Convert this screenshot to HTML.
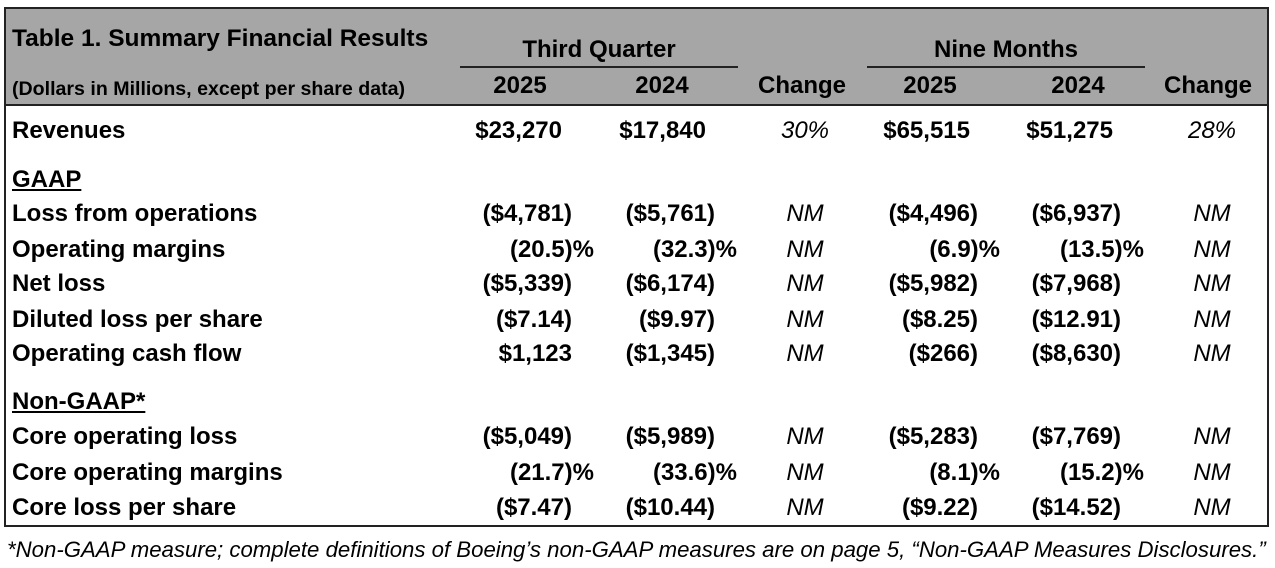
<!DOCTYPE html>
<html><head><meta charset="utf-8"><style>
body{margin:0;width:1275px;height:568px;background:#fff;position:relative;font-family:"Liberation Sans",Arial,sans-serif;overflow:hidden}
.box{position:absolute;left:4px;top:7px;width:1261px;height:516px;border:2px solid #222}
.hdr{position:absolute;left:6px;top:9px;width:1261px;height:95px;background:#a6a6a6;border-bottom:2px solid #222}
.t{position:absolute;font-weight:bold;font-size:24px;color:#000;white-space:nowrap;line-height:24px}
.r{text-align:right}
.c{text-align:center}
.i{font-style:italic;font-weight:normal}
.u{text-decoration:underline}
.ln{position:absolute;height:2px;background:#222}
</style></head><body>
<div class="hdr"></div>
<div class="box"></div>
<div class="t" style="left:12px;top:27px;font-size:24.5px">Table 1. Summary Financial Results</div>
<div class="t" style="left:12px;top:77px;font-size:19.6px">(Dollars in Millions, except per share data)</div>
<div class="t c" style="left:440px;width:318px;top:38px">Third Quarter</div>
<div class="ln" style="left:460px;width:278px;top:66px"></div>
<div class="t c" style="left:847px;width:318px;top:38px">Nine Months</div>
<div class="ln" style="left:867px;width:278px;top:66px"></div>
<div class="t c" style="left:460px;width:120px;top:74px">2025</div>
<div class="t c" style="left:602px;width:120px;top:74px">2024</div>
<div class="t c" style="left:742px;width:120px;top:74px">Change</div>
<div class="t c" style="left:870px;width:120px;top:74px">2025</div>
<div class="t c" style="left:1018px;width:120px;top:74px">2024</div>
<div class="t c" style="left:1148px;width:120px;top:74px">Change</div>

<div id="rows"></div>
<script>
var rows=[
[131,"Revenues","$23,270","$17,840","30%","$65,515","$51,275","28%",0],
[180,"GAAP",null],
[214,"Loss from operations","($4,781)","($5,761)","NM","($4,496)","($6,937)","NM",1],
[250,"Operating margins","(20.5)%","(32.3)%","NM","(6.9)%","(13.5)%","NM",2],
[284,"Net loss","($5,339)","($6,174)","NM","($5,982)","($7,968)","NM",1],
[320,"Diluted loss per share","($7.14)","($9.97)","NM","($8.25)","($12.91)","NM",1],
[354,"Operating cash flow","$1,123","($1,345)","NM","($266)","($8,630)","NM",1],
[402,"Non-GAAP*",null],
[437,"Core operating loss","($5,049)","($5,989)","NM","($5,283)","($7,769)","NM",1],
[473,"Core operating margins","(21.7)%","(33.6)%","NM","(8.1)%","(15.2)%","NM",2],
[508,"Core loss per share","($7.47)","($10.44)","NM","($9.22)","($14.52)","NM",1]];
var h="";
rows.forEach(function(r){
var top=r[0]-12;
if(r[2]===null){h+='<div class="t u" style="left:12px;top:'+top+'px">'+r[1]+'</div>';return;}
h+='<div class="t" style="left:12px;top:'+top+'px">'+r[1]+'</div>';
var ends=r[8]==0?[562,706,970,1113]:r[8]==1?[572,715,978,1121]:[594,737,1000,1144];
var vals=[r[2],r[3],r[5],r[6]];
for(var k=0;k<4;k++)h+='<div class="t r" style="left:'+(ends[k]-180)+'px;width:180px;top:'+top+'px">'+vals[k]+'</div>';
h+='<div class="t c i" style="left:755px;width:100px;top:'+top+'px">'+r[4]+'</div>';
h+='<div class="t c i" style="left:1162px;width:100px;top:'+top+'px">'+r[7]+'</div>';
});
document.getElementById("rows").innerHTML=h;
</script>
<div class="t i" style="left:7px;top:538px;font-size:22.2px">*Non-GAAP measure; complete definitions of Boeing’s non-GAAP measures are on page 5, “Non-GAAP Measures Disclosures.”</div>
</body></html>
